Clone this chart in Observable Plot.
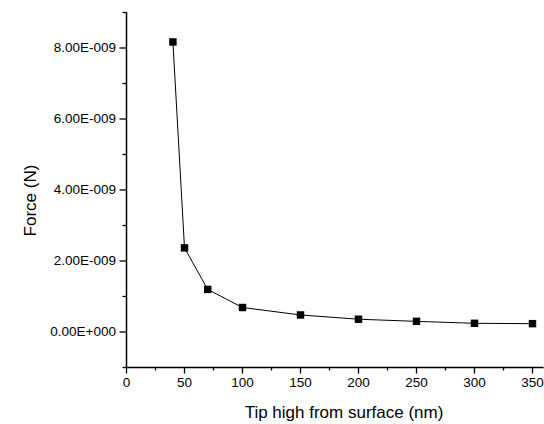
<!DOCTYPE html>
<html>
<head>
<meta charset="utf-8">
<script src="https://cdn.jsdelivr.net/npm/d3@7"></script>
<script src="https://cdn.jsdelivr.net/npm/@observablehq/plot@0.6"></script>
<style>
  html, body { margin: 0; padding: 0; background: #fff; }
</style>
</head>
<body>
<div id="chart"></div>
<script>
const tipHeights = [40, 50, 70, 100, 150, 200, 250, 300, 350];
const forces = [8.17e-9, 2.37e-9, 1.20e-9, 0.69e-9, 0.48e-9, 0.36e-9, 0.30e-9, 0.245e-9, 0.235e-9];
const xMajorTicks = [0, 50, 100, 150, 200, 250, 300, 350];
const xMinorTicks = [25, 75, 125, 175, 225, 275, 325];
const yMajorTicks = [0, 2e-9, 4e-9, 6e-9, 8e-9];
const yMinorTicks = [-1e-9, 1e-9, 3e-9, 5e-9, 7e-9, 9e-9];
const yTickLabels = ["0.00E+000", "2.00E-009", "4.00E-009", "6.00E-009", "8.00E-009"];
const xTitle = "Tip high from surface (nm)";
const yTitle = "Force (N)";
const xAxisLineEnd = 360;

const data = tipHeights.map((h, i) => ({h, f: forces[i]}));

const chart = Plot.plot({
  width: 544,
  height: 424,
  marginLeft: 126,
  marginRight: 12,
  marginTop: 12,
  marginBottom: 57,
  x: {domain: [0, 350]},
  y: {domain: [-1e-9, 9e-9]},
  style: {fontFamily: "'Liberation Sans', Arial, sans-serif", fontSize: "13.5px", color: "black", background: "white"},
  marks: [
    Plot.axisX({ticks: xMajorTicks, tickSize: 6.5, tickPadding: 3.5, label: null, fontSize: 13.5, strokeWidth: 1.3}),
    Plot.axisX({ticks: xMinorTicks, tickSize: 3.5, text: null, label: null, strokeWidth: 1.3}),
    Plot.axisY({ticks: yMajorTicks, tickSize: 6.5, tickPadding: 4, label: null, fontSize: 13.5, strokeWidth: 1.3,
      tickFormat: d => yTickLabels[yMajorTicks.indexOf(d)]}),
    Plot.axisY({ticks: yMinorTicks, tickSize: 3.5, text: null, label: null, strokeWidth: 1.3}),
    Plot.ruleX([0], {stroke: "black", strokeWidth: 1.5}),
    Plot.ruleY([-1e-9], {x1: 0, x2: xAxisLineEnd, stroke: "black", strokeWidth: 1.5, clip: false}),
    Plot.line(data, {x: "h", y: "f", stroke: "black", strokeWidth: 1}),
    Plot.dot(data, {x: "h", y: "f", symbol: "square", r: 4.2, fill: "black", stroke: "none"}),
    Plot.text([yTitle], {text: d => d, frameAnchor: "left", textAnchor: "middle", lineAnchor: "middle", dx: -96, dy: 10.5, rotate: -90, fontSize: 17}),
    Plot.text([xTitle], {text: d => d, frameAnchor: "bottom", textAnchor: "middle", lineAnchor: "middle", dx: 14.5, dy: 45, fontSize: 17})
  ]
});
document.getElementById("chart").appendChild(chart);
</script>
</body>
</html>
